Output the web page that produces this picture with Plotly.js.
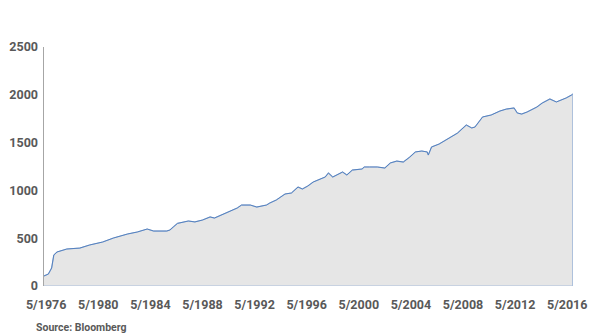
<!DOCTYPE html>
<html>
<head>
<meta charset="utf-8">
<script src="https://cdn.plot.ly/plotly-3.0.1.min.js"></script>
<style>
  html, body { margin: 0; padding: 0; background: #ffffff; }
  #chart { width: 602px; height: 336px; }
</style>
</head>
<body>
<div id="chart"></div>
<script>
// Dates (year-month) and index values
const dates = [
  '1976-03','1976-07','1976-10','1976-12','1977-03','1977-12','1978-12','1979-09',
  '1980-09','1981-07','1982-08','1983-05','1984-02','1984-08','1985-08','1985-11',
  '1986-02','1986-06','1987-04','1987-10','1988-05','1988-12','1989-04','1990-04',
  '1991-01','1991-05','1992-01','1992-07','1993-04','1993-07','1994-01','1994-09',
  '1995-03','1995-09','1996-01','1996-06','1996-11','1997-10','1998-01','1998-05',
  '1999-02','1999-06','1999-11','2000-08','2000-10','2001-03','2001-10','2002-05',
  '2002-10','2003-04','2003-10','2004-04','2004-09','2005-03','2005-08','2005-09',
  '2005-12','2006-07','2006-10','2007-07','2007-12','2008-08','2009-01','2009-04',
  '2009-11','2010-07','2011-03','2011-09','2012-04','2012-07','2012-11','2013-04',
  '2014-01','2014-06','2015-01','2015-07','2015-12','2016-04','2016-09','2016-10'
];
const values = [
  105, 125, 188, 324, 356, 387, 397, 429,
  460, 502, 544, 565, 596, 575, 575, 586,
  617, 655, 680, 670, 690, 722, 711, 774,
  816, 847, 847, 826, 847, 868, 900, 962,
  973, 1035, 1015, 1046, 1088, 1140, 1182, 1140,
  1192, 1161, 1213, 1224, 1245, 1245, 1245, 1234,
  1287, 1307, 1297, 1349, 1402, 1412, 1402, 1370,
  1454, 1485, 1506, 1569, 1600, 1684, 1653, 1663,
  1768, 1789, 1830, 1851, 1862, 1810, 1799, 1820,
  1872, 1914, 1956, 1925, 1946, 1967, 1998, 2008
];
const tickDates = ['1976-05-01','1980-05-01','1984-05-01','1988-05-01','1992-05-01',
  '1996-05-01','2000-05-01','2004-05-01','2008-05-01','2012-05-01','2016-05-01'];
const tickLabels = ['5/1976','5/1980','5/1984','5/1988','5/1992','5/1996',
  '5/2000','5/2004','5/2008','5/2012','5/2016'];
const yTicks = [0, 500, 1000, 1500, 2000, 2500];
const sourceText = 'Source: Bloomberg';

// closed area polygon built from the data arrays
const areaX = dates.concat([dates[dates.length - 1], dates[0]]);
const areaY = values.concat([0, 0]);

const traces = [
  {
    x: areaX, y: areaY, type: 'scatter', mode: 'lines',
    fill: 'toself', fillcolor: '#e6e6e6',
    line: { color: '#a9bedb', width: 1.2 },
    hoverinfo: 'skip', showlegend: false
  },
  {
    x: dates, y: values, type: 'scatter', mode: 'lines',
    line: { color: '#5581bf', width: 1 },
    showlegend: false
  }
];

const tickFont = { family: 'Roboto, "Liberation Sans", sans-serif', size: 12.5, color: '#595959', weight: 700 };

const layout = {
  width: 602, height: 336,
  margin: { l: 44, r: 29, t: 47, b: 50, pad: 0 },
  paper_bgcolor: '#ffffff', plot_bgcolor: '#ffffff',
  showlegend: false,
  xaxis: {
    type: 'date',
    range: ['1976-03-01', '2016-10-10'],
    tickmode: 'array', tickvals: tickDates, ticktext: tickLabels,
    showgrid: false, zeroline: false, showline: false,
    ticks: '', tickfont: tickFont, ticklabelstandoff: 9
  },
  yaxis: {
    range: [0, 2500],
    tickmode: 'array', tickvals: yTicks,
    showgrid: false, zeroline: false,
    showline: true, linecolor: '#a6a6a6', linewidth: 1.5,
    ticks: '', tickfont: tickFont, ticklabelstandoff: 2
  },
  annotations: [{
    text: sourceText, xref: 'paper', yref: 'paper',
    x: -0.019, y: -0.172, xanchor: 'left', yanchor: 'middle',
    showarrow: false,
    font: { family: '"Liberation Sans Narrow", "Roboto", sans-serif', size: 10.5, color: '#595959', weight: 700 }
  }]
};

Plotly.newPlot('chart', traces, layout, { displayModeBar: false, staticPlot: true });
</script>
</body>
</html>
